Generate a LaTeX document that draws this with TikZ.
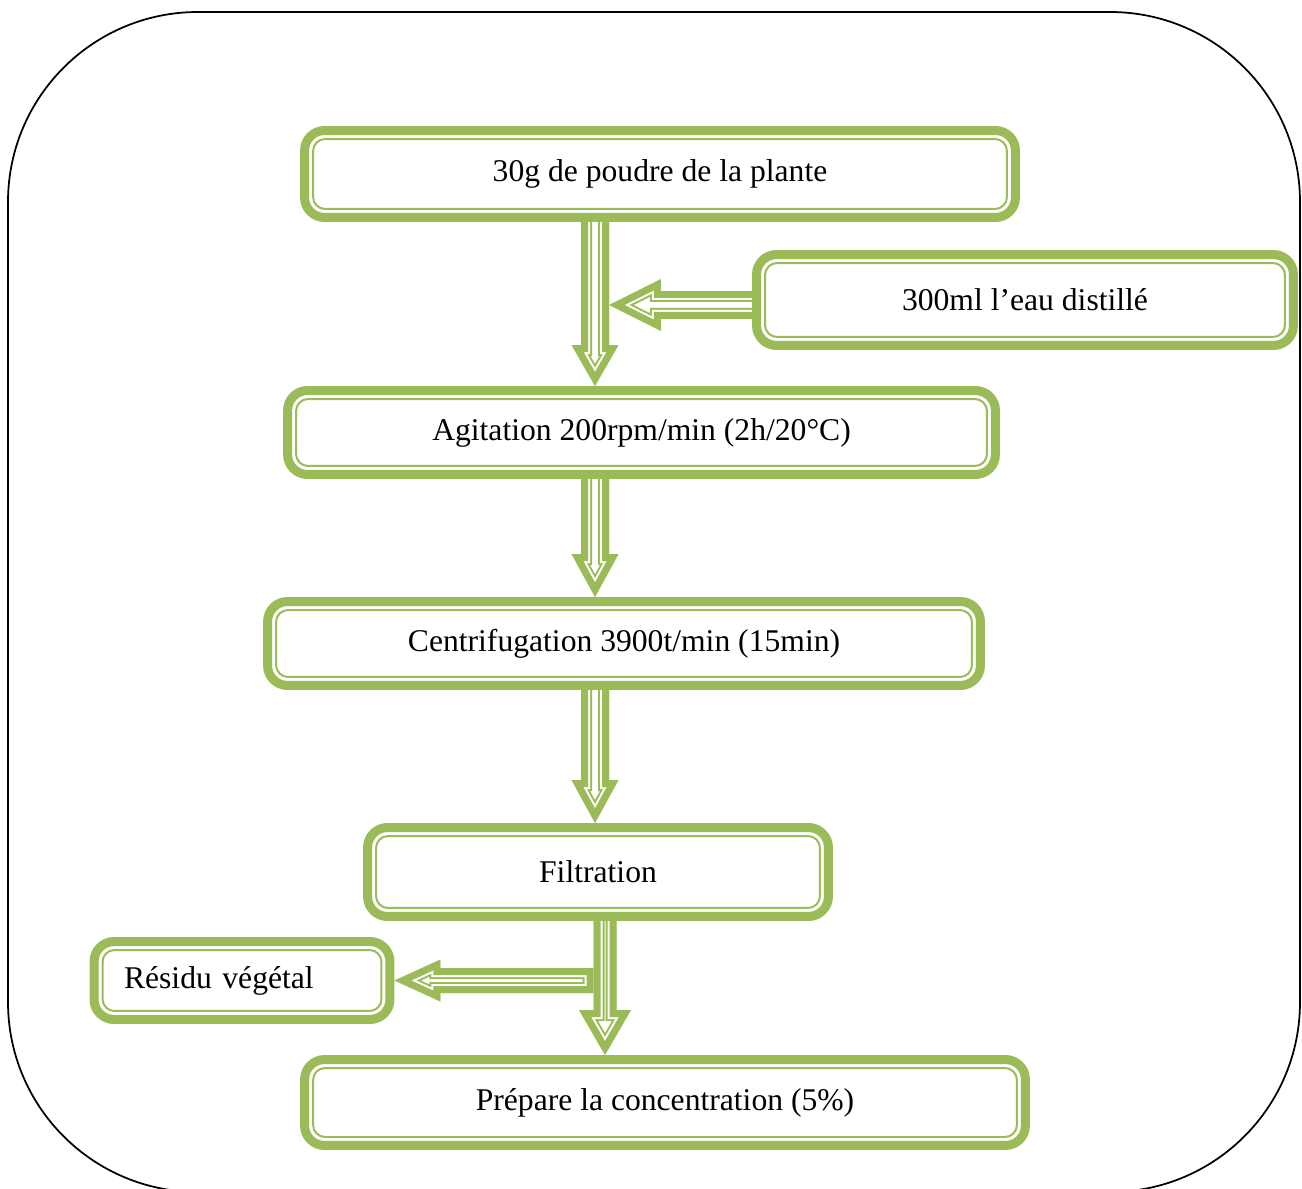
\documentclass[tikz,border=0pt]{standalone}
\usepackage{fontspec}
\setmainfont{Liberation Serif}
\usetikzlibrary{calc,backgrounds}

\definecolor{flowgreen}{HTML}{9BBB59}

\tikzset{
  stepbox/.style={
    draw=flowgreen, line width=0.18cm, rounded corners=0.4cm, fill=white,
    inner sep=0pt, font=\fontsize{18}{22}\selectfont,
    path picture={
      \draw[flowgreen, line width=0.04cm, rounded corners=0.24cm]
        ([shift={(0.17cm,0.17cm)}]path picture bounding box.south west) rectangle
        ([shift={(-0.17cm,-0.17cm)}]path picture bounding box.north east);
    }
  }
}

% hollow block arrow: from, tip, half shaft, half head, head length
\newcommand{\hollowarrow}[5]{
  \coordinate (ha1) at ($(#1)!#3!90:(#2)$);
  \coordinate (ha2) at ($(#2)!#5!(#1)!#3!-90:(#1)$);
  \coordinate (ha3) at ($(#2)!#5!(#1)!#4!-90:(#1)$);
  \coordinate (ha4) at (#2);
  \coordinate (ha5) at ($(#2)!#5!(#1)!#4!90:(#1)$);
  \coordinate (ha6) at ($(#2)!#5!(#1)!#3!90:(#1)$);
  \coordinate (ha7) at ($(#1)!#3!-90:(#2)$);
  \begin{scope}
    \fill[white] (ha1) -- (ha2) -- (ha3) -- (ha4) -- (ha5) -- (ha6) -- (ha7) -- cycle;
    \clip (ha1) -- (ha2) -- (ha3) -- (ha4) -- (ha5) -- (ha6) -- (ha7) -- cycle;
    \foreach \c/\w in {flowgreen/0.44cm, white/0.36cm, flowgreen/0.28cm}
      \draw[\c, line width=\w, line join=miter]
        (ha1) -- (ha2) -- (ha3) -- (ha4) -- (ha5) -- (ha6) -- (ha7) -- cycle;
  \end{scope}
}

\begin{document}
\begin{tikzpicture}[
  x=0.02cm,
  y=-0.02cm
]
\useasboundingbox (0,0) rectangle (1302,1189);

% steps
\node[stepbox, minimum width=14.22cm, minimum height=1.74cm] (powder) at (660,174) {30g de poudre de la plante};
\node[stepbox, minimum width=10.74cm, minimum height=1.82cm] (water) at (1025,300) {300ml l’eau distillé};
\node[stepbox, minimum width=14.16cm, minimum height=1.68cm] (agitation) at (641.5,432.5) {Agitation 200rpm/min (2h/20°C)};
\node[stepbox, minimum width=14.26cm, minimum height=1.68cm] (centrif) at (624,643.5) {Centrifugation 3900t/min (15min)};
\node[stepbox, minimum width=9.22cm, minimum height=1.78cm] (filtration) at (598,872) {Filtration};
\node[stepbox, align=left, text width=4.72cm, inner xsep=0.6cm, minimum height=1.56cm] (residue) at (242,980.5) {Résidu végétal};
\node[stepbox, minimum width=14.42cm, minimum height=1.72cm] (concentr) at (665,1102.5) {Prépare la concentration (5\%)};

\coordinate (spine) at (595,0);
\coordinate (spineb) at (605,0);

\begin{scope}[on background layer]
\draw[black, line width=0.035cm, rounded corners=3.8cm] (8,12) rectangle (1300,1192);

% main line
\coordinate (a1s) at ($(powder.south -| spine)+(0,-14)$);
\coordinate (a1e) at (agitation.north -| spine);
\hollowarrow{a1s}{a1e}{0.28cm}{0.47cm}{0.82cm}
\coordinate (a2s) at ($(agitation.south -| spine)+(0,-14)$);
\coordinate (a2e) at (centrif.north -| spine);
\hollowarrow{a2s}{a2e}{0.28cm}{0.47cm}{0.86cm}
\coordinate (a3s) at ($(centrif.south -| spine)+(0,-14)$);
\coordinate (a3e) at (filtration.north -| spine);
\hollowarrow{a3s}{a3e}{0.28cm}{0.47cm}{0.86cm}
\coordinate (a4s) at ($(filtration.south -| spineb)+(0,-14)$);
\coordinate (a4e) at (concentr.north -| spineb);
\hollowarrow{a4s}{a4e}{0.23cm}{0.52cm}{0.9cm}

% water in
\coordinate (h1s) at ($(water.west)+(14,5)$);
\coordinate (h1e) at ($(water.west -| spine)+(14,5)$);
\hollowarrow{h1s}{h1e}{0.28cm}{0.52cm}{1.04cm}

% residue out
\coordinate (h2s) at ($(residue.east -| spineb)+(-11.5,0)$);
\coordinate (h2e) at (residue.east);
\hollowarrow{h2s}{h2e}{0.25cm}{0.42cm}{0.92cm}
\end{scope}
\end{tikzpicture}
\end{document}
